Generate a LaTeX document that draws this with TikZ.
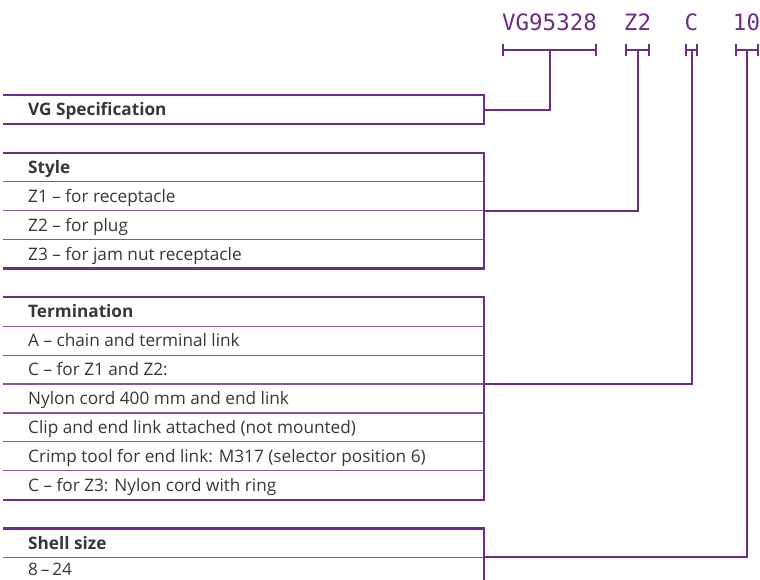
\documentclass[tikz,border=0pt]{standalone}
\usepackage{fontspec}
\setmainfont{Open Sans}
\newfontfamily\codefont{DejaVu Sans Mono}
\usetikzlibrary{arrows.meta,positioning,calc}
\definecolor{specpurple}{RGB}{107,45,135}
\definecolor{specrule}{RGB}{135,85,160}
\definecolor{spectext}{RGB}{55,55,55}
\newcommand{\specrow}[3]{\node[rowtext] (#1) at (28,{95+28.9*#2+20.5}) {#3};}
\newcommand{\rowrule}[1]{\draw[thinrule] (3,{95+28.9*#1}) -- (484,{95+28.9*#1});}
\newcommand{\specframe}[2]{\draw[boxrule] (3,{95+28.9*#1}) -- (484,{95+28.9*#1}) -- (484,{95+28.9*#2}) -- (3,{95+28.9*#2});}
\newcommand{\codebar}[3]{\draw[barrule] (#2,50) -- (#3,50); \coordinate (#1) at ({(#2+#3)/2},50);}

\begin{document}
\begin{tikzpicture}[x=1pt,y=-1pt,
		rowtext/.style={anchor=base west,inner sep=0pt,text=spectext,font=\fontsize{17.2}{18}\selectfont},
		headtext/.style={rowtext,font=\fontsize{17.2}{18}\selectfont\bfseries},
		codetext/.style={anchor=base,inner sep=0pt,text=specpurple,font=\codefont\fontsize{22.5}{24}\selectfont},
		thinrule/.style={specrule,line width=1.2pt},
		boxrule/.style={specpurple,line width=2.2pt},
		barrule/.style={specpurple,line width=2pt,{Bar[width=12pt]}-{Bar[width=12pt]}},
		link/.style={specpurple,line width=2pt}]
		\useasboundingbox (0,0) rectangle (760,579);
		\clip (0,0) rectangle (760,579);
		\node[codetext] (vgcode) at (549.5,30) {VG95328};
		\node[codetext] (stylecode) at (637.5,30) {Z2};
		\node[codetext] (termcode) at (691.5,30) {C};
		\node[codetext] (sizecode) at (746.5,30) {10};
		\codebar{vgbar}{502}{597} \codebar{stylebar}{625}{650} \codebar{termbar}{685}{698} \codebar{sizebar}{735}{759}
		\rowrule{3} \rowrule{4} \rowrule{5}
		\rowrule{8} \rowrule{9} \rowrule{10} \rowrule{11} \rowrule{12} \rowrule{13}
		\rowrule{16}
		\specframe{0}{1} \specframe{2}{6} \specframe{7}{14} \specframe{15}{17}
		\node[headtext] (vghead) at (28,{95+20.5}) {VG Specification};
		\node[headtext] (stylehead) at (28,{95+28.9*2+20.5}) {Style};
		\specrow{zone}{3}{Z1 -- for receptacle}
		\specrow{ztwo}{4}{Z2 -- for plug}
		\specrow{zthree}{5}{Z3 -- for jam nut receptacle}
		\node[headtext] (termhead) at (28,{95+28.9*7+20.5}) {Termination};
		\specrow{terma}{8}{A -- chain and terminal link}
		\specrow{termc}{9}{C -- for Z1 and Z2:}
		\specrow{nylon}{10}{Nylon cord 400 mm and end link}
		\specrow{clip}{11}{Clip and end link attached (not mounted)}
		\specrow{crimp}{12}{Crimp tool for end link: M317 (selector position 6)}
		\specrow{termring}{13}{C -- for Z3: Nylon cord with ring}
		\node[headtext] (sizehead) at (28,{95+28.9*15+20.5}) {Shell size};
		\node[rowtext] (sizes) at (28,575.5) {8\,--\,24};
		\coordinate (vgend) at (484,109.5);
		\coordinate (styleend) at (484,{95+28.9*4});
		\coordinate (termend) at (484,{95+28.9*10});
		\coordinate (sizeend) at (484,{95+28.9*16});
		\draw[link] (vgend) -| (vgbar);
		\draw[link] (styleend) -| (stylebar);
		\draw[link] (termend) -| (termbar);
		\draw[link] (sizeend) -| (sizebar);
\end{tikzpicture}
\end{document}
